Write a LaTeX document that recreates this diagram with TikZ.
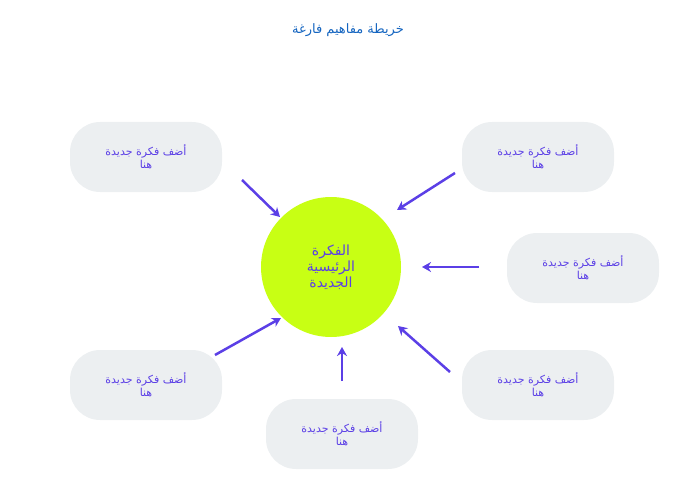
\documentclass[tikz,border=0pt]{standalone}
\usepackage{fontspec}
\TeXXeTstate=1
\newfontfamily\arabicfont[Script=Arabic]{DejaVu Sans}
\usetikzlibrary{arrows.meta}
\definecolor{ideablue}{HTML}{1565C0}
\definecolor{ideaviolet}{HTML}{5B3FE6}
\definecolor{ideagray}{HTML}{ECEFF1}
\definecolor{ideagreen}{HTML}{C8FF14}
\tikzset{
  ideabox/.style={rectangle, rounded corners=30pt, fill=ideagray, minimum width=152pt,
    minimum height=70pt, align=center, text=ideaviolet, font=\arabicfont\fontsize{11}{13}\selectfont},
  pointer/.style={draw=ideaviolet, line width=2.5pt, -{Stealth[length=9pt,width=10pt]}}
}
\newcommand{\addidea}{\beginR أضف فكرة جديدة\endR\\\beginR هنا\endR}
\begin{document}
\begin{tikzpicture}[x=1pt,y=-1pt]
\useasboundingbox (0,0) rectangle (696,500);
% title
\node (title) at (348,30) [text=ideablue, font=\arabicfont\fontsize{13}{15}\selectfont] {\beginR خريطة مفاهيم فارغة\endR};
% main idea
\node (main) at (331,267) [circle, fill=ideagreen, minimum size=140pt, align=center, text=ideaviolet,
  font=\arabicfont\fontsize{14}{16}\selectfont] {\beginR الفكرة\endR\\\beginR الرئيسية\endR\\\beginR الجديدة\endR};
% ideas
\node (tl) at (146,157) [ideabox] {\addidea};
\node (tr) at (538,157) [ideabox] {\addidea};
\node (rt) at (583,268) [ideabox] {\addidea};
\node (bl) at (146,385) [ideabox] {\addidea};
\node (br) at (538,385) [ideabox] {\addidea};
\node (bm) at (342,434) [ideabox] {\addidea};
% arrow ends
\coordinate (tls) at (242,180); \coordinate (tle) at (280,217);
\coordinate (trs) at (455,173); \coordinate (tre) at (397,210);
\coordinate (rts) at (479,267); \coordinate (rte) at (422,267);
\coordinate (bls) at (215,355); \coordinate (ble) at (281,318);
\coordinate (brs) at (450,372); \coordinate (bre) at (398,326);
\coordinate (bms) at (342,381); \coordinate (bme) at (342,347);
\foreach \p in {tl,tr,rt,bl,br,bm}
  \draw[pointer] (\p s) -- (\p e);
\end{tikzpicture}
\end{document}
